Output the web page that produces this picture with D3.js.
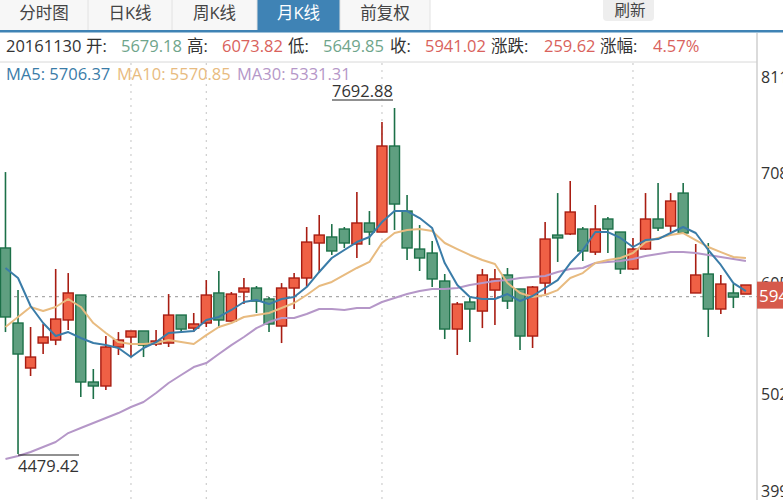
<!DOCTYPE html>
<html>
<head>
<meta charset="utf-8">
<script src="https://cdn.jsdelivr.net/npm/d3@7"></script>
<style>
  html, body { margin: 0; background: #fff; overflow: hidden; }
  svg { display: block; }
  text { font-family: "Open Sans", "Noto Sans CJK SC", sans-serif; }
</style>
</head>
<body>
<div id="wrapper"></div>
<script>
const months = [
  '201112','201201','201202','201203','201204','201205','201206','201207','201208','201209','201210','201211',
  '201212','201301','201302','201303','201304','201305','201306','201307','201308','201309','201310','201311',
  '201312','201401','201402','201403','201404','201405','201406','201407','201408','201409','201410','201411',
  '201412','201501','201502','201503','201504','201505','201506','201507','201508','201509','201510','201511',
  '201512','201601','201602','201603','201604','201605','201606','201607','201608','201609','201610','201611',
]
const opens = [6393,5696,5278,5510,5538,5724,5956,5148,5111,5473,5566,5622,5501,5510,5770,5649,5696,5975,5714,5984,
  6021,5919,5668,6021,6114,6439,6495,6569,6430,6625,6541,7340,6736,6383,6346,6086,5640,5891,5807,6002,
  6142,6012,5575,6067,6513,6523,6569,6355,6662,6541,6198,6383,6662,6597,6903,5975,6151,5826,5975,5965]
const closes = [5752,5408,5380,5566,5733,5975,5148,5111,5473,5538,5622,5491,5529,5770,5640,5687,5956,5724,5965,6021,
  5900,5687,6021,6114,6448,6513,6365,6439,6625,6541,7340,6801,6393,6300,6105,5640,5872,5826,6142,6105,
  5900,5575,6030,6476,6486,6727,6365,6569,6569,6198,6383,6662,6578,6829,6532,6142,5826,6058,5937,6049]
const highs = [7098,6002,5659,5687,6198,6160,5956,5269,5575,5612,5622,5622,5631,5965,5770,5789,6095,6179,5984,6114,
  6040,5937,6067,6160,6588,6699,6615,6588,6913,6736,7563,7693,6885,6606,6458,6151,5891,5928,6198,6198,
  6207,6012,6040,6634,6903,7015,6588,6792,6680,6541,6486,6903,6996,6903,6996,6430,6439,6142,6058,6049]
const lows = [5612,4479,5204,5408,5491,5631,5009,4990,5074,5399,5380,5380,5482,5473,5603,5612,5659,5649,5714,5872,
  5789,5612,5510,5826,6030,6160,6328,6393,6300,6421,6541,6560,6281,6179,6030,5547,5399,5519,5649,5677,
  5826,5445,5464,5965,6263,6513,6272,6328,6346,6151,6188,6374,6551,6541,6532,5975,5566,5780,5835,5965]
const ma5 = [6207,6114,5854,5696,5575,5612,5557,5510,5491,5464,5380,5464,5519,5603,5612,5622,5724,5752,5817,5891,
  5910,5872,5919,5937,6030,6170,6300,6374,6448,6495,6634,6736,6736,6671,6578,6253,6049,5937,5919,5919,
  5965,5900,5947,6021,6095,6253,6374,6541,6541,6486,6402,6467,6476,6532,6588,6532,6374,6235,6067,5993]
const ma10 = [5659,5752,5845,5807,5845,5919,5845,5696,5603,5519,5501,5501,5510,5538,5519,5501,5584,5659,5696,5752,
  5770,5789,5835,5882,5956,6040,6077,6142,6207,6263,6439,6532,6560,6569,6551,6439,6383,6328,6281,6244,
  6067,5975,5937,5956,6002,6114,6160,6253,6281,6300,6346,6448,6486,6513,6532,6467,6402,6355,6309,6300]
const ma30 = [4433,4461,4498,4544,4591,4674,4721,4767,4814,4860,4916,4962,5046,5139,5213,5287,5324,5408,5491,5566,
  5649,5705,5742,5742,5780,5826,5826,5817,5835,5835,5891,5928,5965,5993,6012,6012,6021,6049,6067,6086,
  6095,6114,6123,6133,6170,6198,6207,6253,6263,6272,6290,6318,6337,6355,6355,6346,6328,6309,6290,6272]
const gridMonths = ['201210','201304','201406','201602']
const yTicks = [8110,7080,6050,5020,3990]
const lastPrice = 5941.02
const highMark = 7692.88
const lowMark = 4479.42

const tabNames = ['分时图','日K线','周K线','月K线','前复权']
const infoParts = [
  ['20161130','#333'],['开:','#333'],['5679.18','#6fa58b'],['高:','#333'],['6073.82','#d9625c'],['低:','#333'],['5649.85','#6fa58b'],
  ['收:','#333'],['5941.02','#d9625c'],['涨跌:','#333'],['259.62','#d9625c'],['涨幅:','#333'],['4.57%','#d9625c'],
]
const legendParts = ['MA5: 5706.37','MA10: 5570.85','MA30: 5331.31']

const width = 783
const height = 500
const colorUp = '#ef6045'
const colorUpDark = '#a81d12'
const colorDown = '#5f9f80'
const colorDownDark = '#1c7048'
const colorMa5 = '#3a7ca8'
const colorMa10 = '#e8bb80'
const colorMa30 = '#b597c8'
const colorBlue = '#3f83b5'

const wrapper = d3.select('#wrapper').append('svg')
  .attr('width', width)
  .attr('height', height)
  .attr('viewBox', `0 0 ${width} ${height}`)

// Scales
const xScale = d3.scaleBand().domain(months).range([-0.8, 752.2])
const xMid = (m) => xScale(m) + xScale.bandwidth() / 2
const yScale = d3.scaleLinear().domain([3990, 8110]).range([506.7, 63.1])

// Tabs
const tabEdges = [0, 88, 172, 257, 340, 430]
const tabs = wrapper.append('g').selectAll('g').data(tabNames).enter().append('g')
tabs.append('rect')
  .attr('x', (d, i) => tabEdges[i])
  .attr('y', 0)
  .attr('width', (d, i) => tabEdges[i + 1] - tabEdges[i])
  .attr('height', 30)
  .attr('fill', (d, i) => (i === 3 ? colorBlue : '#f7f7f7'))
tabs.append('text')
  .attr('x', (d, i) => (tabEdges[i] + tabEdges[i + 1]) / 2)
  .attr('y', 19)
  .attr('text-anchor', 'middle')
  .attr('font-size', 16.5)
  .attr('fill', (d, i) => (i === 3 ? '#fff' : '#444'))
  .text((d) => d)
wrapper.append('g').selectAll('line').data(tabEdges.slice(1)).enter().append('line')
  .attr('x1', (d) => d).attr('x2', (d) => d)
  .attr('y1', 0).attr('y2', 30)
  .attr('stroke', '#e2e2e2')
wrapper.append('rect').attr('x', 0).attr('y', 30).attr('width', width).attr('height', 2.5).attr('fill', colorBlue)

// Refresh button
wrapper.append('rect').attr('x', 603).attr('y', -6).attr('width', 51).attr('height', 27).attr('rx', 4).attr('fill', '#eeeeee')
wrapper.append('text').attr('x', 630).attr('y', 16).attr('text-anchor', 'middle').attr('font-size', 15.5).attr('fill', '#444').text('刷新')

// Info rows
const infoX = [6, 86, 121, 187, 222, 288, 323, 390, 425, 491, 544, 600, 653]
wrapper.append('g').selectAll('text').data(infoParts).enter().append('text')
  .attr('x', (d, i) => infoX[i])
  .attr('y', 52)
  .attr('font-size', 16.5)
  .attr('fill', (d) => d[1])
  .text((d) => d[0])
wrapper.append('line').attr('x1', 0).attr('x2', 757).attr('y1', 62).attr('y2', 62).attr('stroke', '#d8d8d8')
wrapper.append('line').attr('x1', 757).attr('x2', 757).attr('y1', 33).attr('y2', height).attr('stroke', '#cfcfcf').attr('stroke-width', 1.5)

// Grid
wrapper.append('g').selectAll('line').data(gridMonths).enter().append('line')
  .attr('x1', xMid).attr('x2', xMid)
  .attr('y1', 63).attr('y2', height)
  .attr('stroke', '#c4c4c4')
  .attr('stroke-dasharray', '2 5')
wrapper.append('line')
  .attr('x1', 14).attr('x2', 757)
  .attr('y1', yScale(lastPrice)).attr('y2', yScale(lastPrice))
  .attr('stroke', '#aaa')
  .attr('stroke-width', 1.2)
  .attr('stroke-dasharray', '3 4')

// Legend
const legendX = [6, 117, 237]
const legendColors = [colorMa5, colorMa10, colorMa30]
wrapper.append('g').selectAll('text').data(legendParts).enter().append('text')
  .attr('x', (d, i) => legendX[i])
  .attr('y', 80)
  .attr('font-size', 16.5)
  .attr('fill', (d, i) => legendColors[i])
  .text((d) => d)

// Candles
const isUp = (i) => closes[i] >= opens[i]
const candles = wrapper.append('g').selectAll('g').data(months).enter().append('g')
candles.append('line')
  .attr('x1', xMid).attr('x2', xMid)
  .attr('y1', (d, i) => yScale(highs[i]))
  .attr('y2', (d, i) => yScale(lows[i]))
  .attr('stroke', (d, i) => (isUp(i) ? colorUpDark : colorDownDark))
  .attr('stroke-width', 1.6)
candles.append('rect')
  .attr('x', (d) => xMid(d) - 5)
  .attr('width', 10)
  .attr('y', (d, i) => yScale(Math.max(opens[i], closes[i])))
  .attr('height', (d, i) => Math.abs(yScale(opens[i]) - yScale(closes[i])))
  .attr('fill', (d, i) => (isUp(i) ? colorUp : colorDown))
  .attr('stroke', (d, i) => (isUp(i) ? colorUpDark : colorDownDark))
  .attr('stroke-width', 1.4)

// Moving averages
const maLine = d3.line().x((d, i) => xMid(months[i])).y((d) => yScale(d))
const maSeries = [[ma30, colorMa30], [ma10, colorMa10], [ma5, colorMa5]]
wrapper.append('g').selectAll('path').data(maSeries).enter().append('path')
  .attr('d', (d) => maLine(d[0]))
  .attr('fill', 'none')
  .attr('stroke', (d) => d[1])
  .attr('stroke-width', 2)
  .attr('stroke-linejoin', 'round')

// High and low marks
const markX = [332, 18]
const markY = [yScale(highMark) - 8, yScale(lowMark) + 1]
const markTextY = [97, 472]
wrapper.append('g').selectAll('line').data([highMark, lowMark]).enter().append('line')
  .attr('x1', (d, i) => markX[i]).attr('x2', (d, i) => markX[i] + 61)
  .attr('y1', (d, i) => markY[i]).attr('y2', (d, i) => markY[i])
  .attr('stroke', '#222')
wrapper.append('g').selectAll('text').data([highMark, lowMark]).enter().append('text')
  .attr('x', (d, i) => markX[i])
  .attr('y', (d, i) => markTextY[i])
  .attr('font-size', 16.5)
  .attr('fill', '#333')
  .text((d) => d3.format('.2f')(d))

// Y axis, first and last labels pulled in so they stay inside the plot
const yAxis = wrapper.append('g')
  .attr('transform', 'translate(757,0)')
  .call(d3.axisRight(yScale).tickValues(yTicks).tickSize(0).tickPadding(4).tickFormat(d3.format('d')))
yAxis.select('.domain').remove()
yAxis.selectAll('text')
  .attr('font-size', 16)
  .attr('font-family', '"Open Sans", sans-serif')
  .attr('fill', '#333')
  .attr('dy', (d) => (d === 8110 ? 19 : d === 3990 ? -10 : 4))

// Last price tag
const tagY = yScale(lastPrice)
wrapper.append('rect').attr('x', 757).attr('y', tagY - 15).attr('width', 26).attr('height', 27).attr('fill', '#d65a4c')
wrapper.append('text').attr('x', 759).attr('y', tagY + 5).attr('font-size', 17).attr('fill', '#fff').text('5941')
</script>
</body>
</html>
